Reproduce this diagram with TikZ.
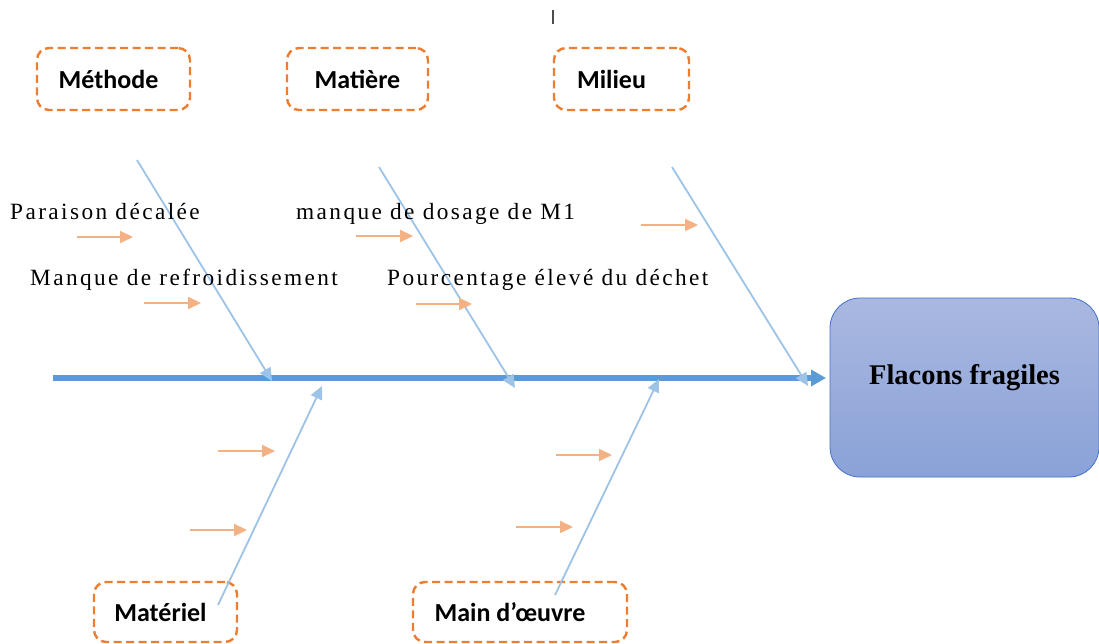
\documentclass[tikz,border=0pt]{standalone}
\usepackage{fontspec}
\setmainfont{Liberation Serif}
\newfontfamily\lblfont{Carlito}
\newfontfamily\spacedfont[LetterSpace=10.3]{Liberation Serif}
\usetikzlibrary{arrows.meta,shadings}
\definecolor{dashor}{HTML}{ED7D31}
\definecolor{spineblue}{HTML}{5B9BD5}
\definecolor{boneblue}{HTML}{9DC3E6}
\definecolor{smallor}{HTML}{F4B183}
\definecolor{efftop}{HTML}{A9B8E0}
\definecolor{effbot}{HTML}{8AA2D8}
\definecolor{effborder}{HTML}{4472C4}
\tikzset{
  catbox/.style={draw=dashor, line width=2.4pt, dash pattern=on 8pt off 4.5pt, rounded corners=12pt, inner sep=0pt, font=\lblfont\bfseries\fontsize{26}{29}\selectfont},
  bone/.style={draw=boneblue, line width=1.8pt, -{Triangle[length=13pt,width=12pt]}},
  spine/.style={draw=spineblue, line width=5.5pt, -{Triangle[length=15pt,width=16pt]}},
  cause/.style={draw=smallor, line width=2.2pt, -{Triangle[length=13pt,width=12pt]}},
  causetext/.style={anchor=base west, inner sep=0pt, font=\spacedfont\fontsize{23.3}{26}\selectfont},
}
\begin{document}
\begin{tikzpicture}[x=1pt,y=-1pt]
\useasboundingbox (0,0) rectangle (1099,644);
% stray cursor mark
\coordinate (c1) at (553,10);
\coordinate (c2) at (553,24);
\draw[black!70, line width=1.4pt] (c1) -- (c2);

% category boxes
\node[catbox, minimum width=153pt, minimum height=62pt] (meth) at (113.5,79) {\hspace*{-10pt}Méthode};
\node[catbox, minimum width=141pt, minimum height=62pt] (mati) at (357.5,79) {Matière};
\node[catbox, minimum width=135pt, minimum height=62pt] (mil) at (621.5,79) {\hspace*{-20pt}Milieu};
\node[catbox, minimum width=143pt, minimum height=60pt] (matl) at (165.5,612) {\hspace*{-10pt}Matériel};
\node[catbox, minimum width=214pt, minimum height=60pt] (mo) at (520,612) {\hspace*{-20pt}Main d’œuvre};

% effect box
\node[draw=effborder, line width=0.8pt, top color=efftop, bottom color=effbot, rounded corners=30pt,
      minimum width=269pt, minimum height=179pt, inner sep=0pt] (eff) at (964.5,387.5) {};
\node[inner sep=0pt, font=\bfseries\fontsize{28.5}{31}\selectfont] (efftext) at (964.5,378) {Flacons fragiles};

% spine
\coordinate (s0) at (53,378);
\coordinate (s1) at (826,378);
\draw[spine] (s0) -- (s1);

% bones
\coordinate (b1s) at (137,160); \coordinate (b1e) at (272,381);
\coordinate (b2s) at (379,167); \coordinate (b2e) at (515,388);
\coordinate (b3s) at (672,167); \coordinate (b3e) at (808,386);
\coordinate (b4s) at (218,605); \coordinate (b4e) at (322,386);
\coordinate (b5s) at (555,595); \coordinate (b5e) at (659,379);
\draw[bone] (b1s) -- (b1e);
\draw[bone] (b2s) -- (b2e);
\draw[bone] (b3s) -- (b3e);
\draw[bone] (b4s) -- (b4e);
\draw[bone] (b5s) -- (b5e);

% small cause arrows
\foreach \n/\xa/\xb/\yy in {a1/77/133/237, a2/144/201/303, a3/356/413/236, a4/416/472/304, a5/641/698/225, a6/218/275/451, a7/190/247/530, a8/556/612/455, a9/516/573/527}{
  \coordinate (\n s) at (\xa,\yy);
  \coordinate (\n e) at (\xb,\yy);
  \draw[cause] (\n s) -- (\n e);
}

% cause texts
\node[causetext] (t1) at (10,220) {Paraison décalée};
\node[causetext] (t2) at (296,220) {manque de dosage de M1};
\node[causetext] (t3) at (30,285) {Manque de refroidissement};
\node[causetext] (t4) at (387,285) {Pourcentage élevé du déchet};
\end{tikzpicture}
\end{document}
